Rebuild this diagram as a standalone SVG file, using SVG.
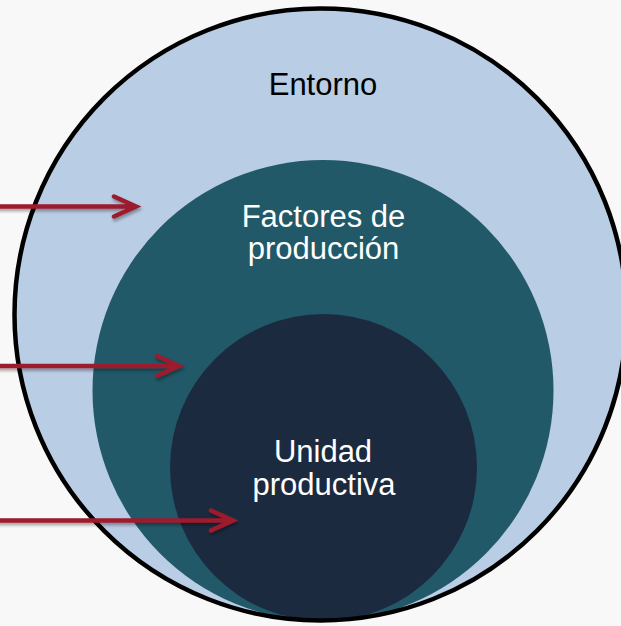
<svg xmlns="http://www.w3.org/2000/svg" width="621" height="626" viewBox="0 0 621 626">
<defs>
<filter id="sh" x="-10%" y="-50%" width="120%" height="200%">
<feDropShadow dx="1" dy="2.5" stdDeviation="1.5" flood-color="#000" flood-opacity="0.35"/>
</filter>
<style>
.lbl{font-family:"Liberation Sans",Arial,sans-serif;font-size:31px;text-anchor:middle}
.arr{fill:none;stroke:#9C1B2E;stroke-width:4.5;stroke-linecap:round;stroke-linejoin:miter}
</style>
</defs>
<rect width="621" height="626" fill="#F8F8F8"/>
<g id="entorno">
<circle cx="320.5" cy="314.5" r="306" fill="#B9CDE5"/>
<text class="lbl" x="323" y="94.5" fill="#000">Entorno</text>
</g>
<g id="factores">
<circle cx="323" cy="390.5" r="230.5" fill="#215968"/>
<text class="lbl" x="323.5" y="227" fill="#fff">Factores de</text>
<text class="lbl" x="323.5" y="259" fill="#fff">producción</text>
</g>
<g id="unidad">
<circle cx="323.5" cy="467.5" r="153.5" fill="#1C2A40"/>
<text class="lbl" x="323" y="462" fill="#fff">Unidad</text>
<text class="lbl" x="324" y="494.5" fill="#fff">productiva</text>
</g>
<circle id="outline" cx="320.5" cy="314.5" r="306" fill="none" stroke="#000" stroke-width="4.5"/>
<g id="connectors" filter="url(#sh)">
<path class="arr" d="M-5,206.5 H134 M114,196.5 L136,206.5 L114,216.5"/>
<path class="arr" d="M-5,366 H177 M157,356 L179,366 L157,376"/>
<path class="arr" d="M-5,520.5 H231 M211,510.5 L233,520.5 L211,530.5"/>
</g>
</svg>
